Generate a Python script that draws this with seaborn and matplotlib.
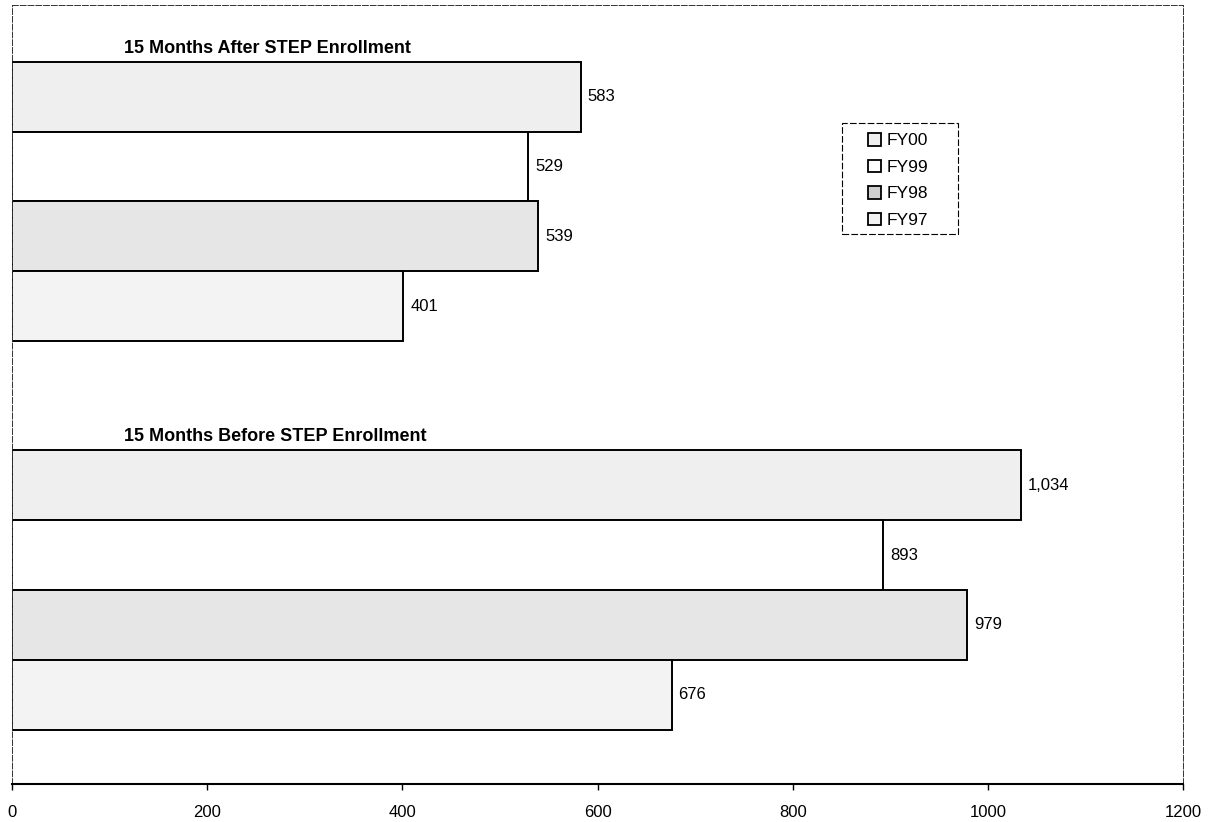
import matplotlib
matplotlib.use("Agg")
import matplotlib.pyplot as plt
import seaborn as sns
import pandas as pd
from matplotlib.patches import Patch, Rectangle

# ---- data ----
periods = ["15 Months After STEP Enrollment", "15 Months Before STEP Enrollment"]
years = ["FY00", "FY99", "FY98", "FY97"]
after_values = [583, 529, 539, 401]
before_values = [1034, 893, 979, 676]
x_ticks = [0, 200, 400, 600, 800, 1000, 1200]

rows = []
for yr, a, b in zip(years, after_values, before_values):
    rows.append({"period": periods[0], "year": yr, "value": a})
    rows.append({"period": periods[1], "year": yr, "value": b})
df = pd.DataFrame(rows)

colors = {"FY00": "#efefef", "FY99": "#ffffff", "FY98": "#e6e6e6", "FY97": "#f3f3f3"}

sns.set_theme(style="white")
plt.rcParams["font.family"] = ["Liberation Sans", "DejaVu Sans"]
plt.rcParams["text.color"] = "black"
plt.rcParams["xtick.color"] = "black"

W, H = 1219, 822
fig = plt.figure(figsize=(W / 100, H / 100), dpi=100)
ax_left, ax_right, ax_top, ax_bottom = 12, 1183, 5, 784
ax = fig.add_axes([ax_left / W, 1 - ax_bottom / H, (ax_right - ax_left) / W, (ax_bottom - ax_top) / H])

sns.barplot(data=df, y="period", x="value", hue="year", hue_order=years,
            order=periods, orient="h", palette=colors, width=0.72,
            edgecolor="black", linewidth=1.4, ax=ax, legend=False, saturation=1)

for cont in ax.containers:
    ax.bar_label(cont, labels=[f"{int(round(b.get_width())):,}" for b in cont],
                 padding=5, fontsize=12, color="black")

ax.set_xlim(0, 1200)
ax.set_ylim((ax_bottom - 201.5) / 388.5, (ax_top - 201.5) / 388.5)
ax.set_xticks(x_ticks)
ax.set_xticklabels([str(t) for t in x_ticks], fontsize=12, color="black")
ax.set_yticks([])
ax.set_xlabel("")
ax.set_ylabel("")
ax.tick_params(axis="x", direction="out", length=4, width=1, color="black", pad=11, bottom=True)

for name in ["left", "top", "right"]:
    ax.spines[name].set_visible(True)
    ax.spines[name].set_linestyle((0, (6, 2)))
    ax.spines[name].set_linewidth(0.7)
    ax.spines[name].set_color("#333333")
ax.spines["bottom"].set_color("black")
ax.spines["bottom"].set_linewidth(1.5)

# group titles
for i, p in enumerate(periods):
    ax.text(115, i - 0.372, p, fontsize=13, fontweight="bold", va="bottom", ha="left", color="black")

# legend: entries without frame, plus a dashed box drawn separately
handles = [Patch(facecolor=colors[y] if y != "FY98" else "#cfcfcf", edgecolor="black",
                 linewidth=1.3, label=y) for y in years]
leg = fig.legend(handles=handles, loc="upper left", bbox_to_anchor=(868 / W, 1 - 133 / H),
                 fontsize=12.5, frameon=False, handlelength=0.75, handleheight=0.75,
                 handletextpad=0.35, labelspacing=0.64, borderpad=0, borderaxespad=0)
for t in leg.get_texts():
    t.set_color("black")
fig.add_artist(Rectangle((842 / W, 1 - 234 / H), (958 - 842) / W, (234 - 123) / H,
                         transform=fig.transFigure, fill=False, edgecolor="black",
                         linewidth=0.8, linestyle=(0, (6, 2))))

fig.savefig("out.png", dpi=100, facecolor="white")
